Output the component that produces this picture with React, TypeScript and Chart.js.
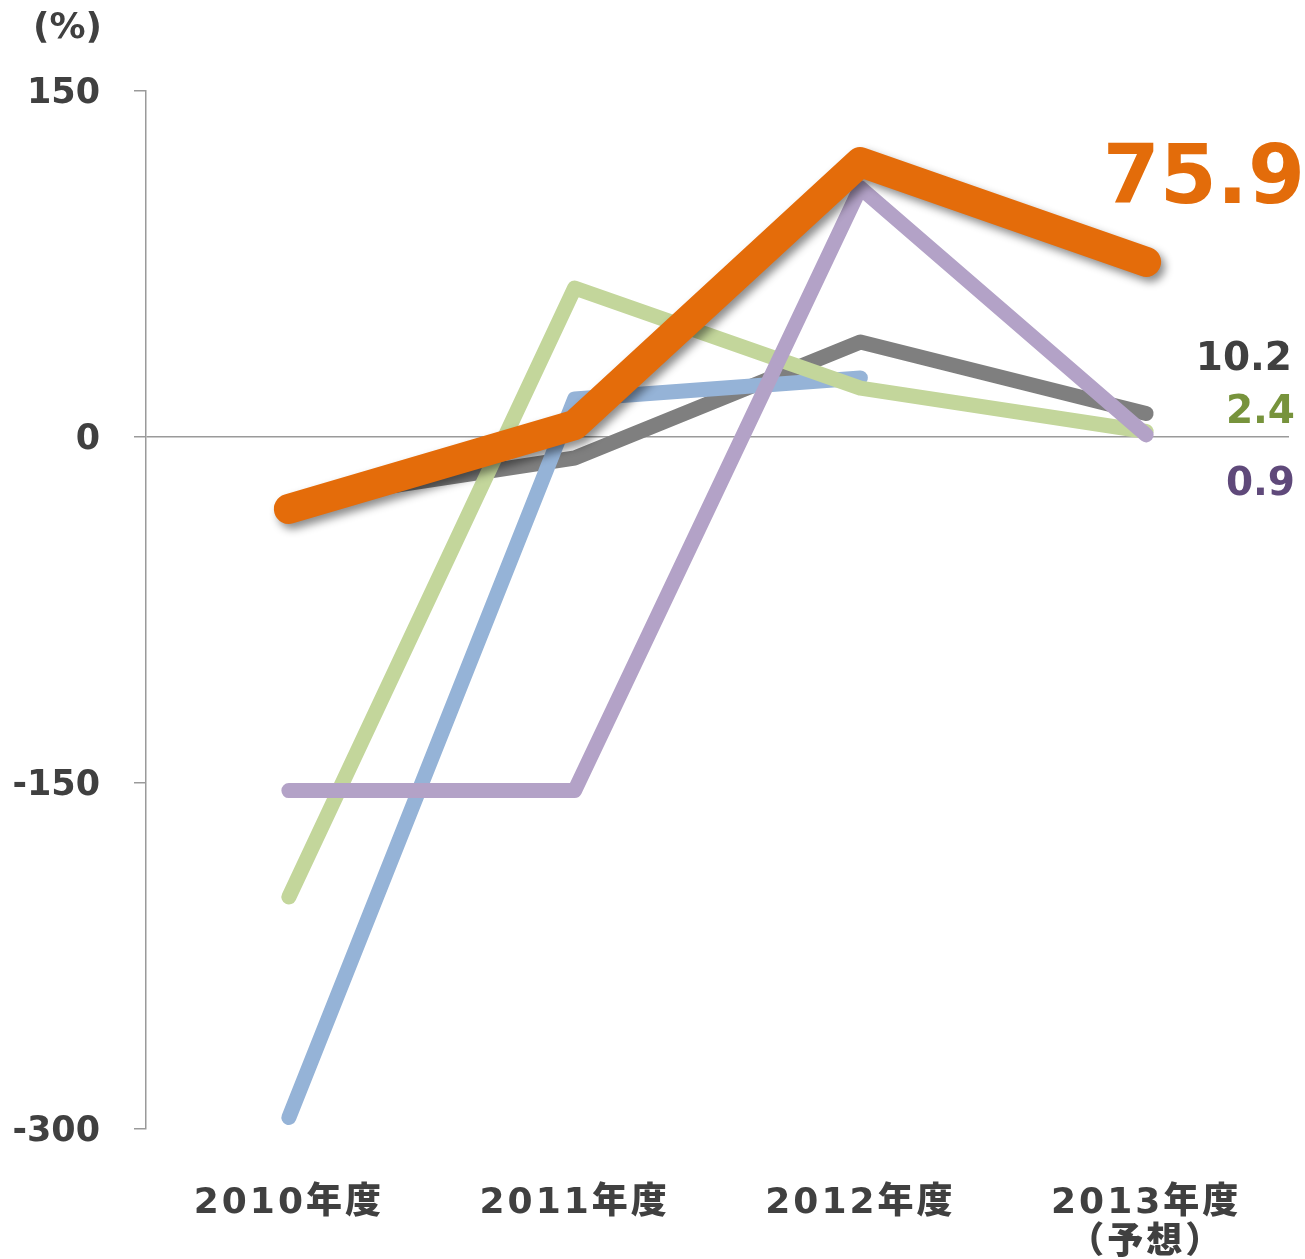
import React, { useEffect, useRef } from "react";
import { Chart, registerables } from "chart.js";

Chart.register(...registerables);

// ---------- data ----------
const categories: (string | string[])[] = ["2010年度", "2011年度", "2012年度", ["2013年度", "（予想）"]];
const seriesOrange = [-31.2, 5.2, 119.2, 75.9];
const seriesGray = [-28, -9.1, 41.2, 10.2];
const seriesGreen = [-199.4, 64.6, 21.2, 2.4];
const seriesBlue = [-295, 16.5, 25.6, null];
const seriesPurple = [-153.3, -153.3, 108, 0.9];
const yTickValues = [150, 0, -150, -300];
const unitLabel = "(%)";

// ---------- style ----------
const W = 1305;
const H = 1259;
const TEXT = "#404040";
const FONT = "'DejaVu Sans', 'Noto Sans CJK JP', sans-serif";
const AXIS_COLOR = "#9a9a9a";

const COLORS = {
  orange: "#E46C0A",
  gray: "#7F7F7F",
  green: "#C3D69B",
  blue: "#95B3D7",
  purple: "#B3A2C7",
};

// end-value annotations
const endLabels = [
  { key: "orange", color: "#E36C0A", size: 82, dx: 16, dy: -59 },
  { key: "gray", color: "#404040", size: 39, dx: 3, dy: -43 },
  { key: "green", color: "#77933C", size: 39, dx: 6, dy: -8 },
  { key: "purple", color: "#5F497A", size: 39, dx: 6, dy: 60 },
];

const seriesMap: Record<string, (number | null)[]> = {
  orange: seriesOrange,
  gray: seriesGray,
  green: seriesGreen,
  blue: seriesBlue,
  purple: seriesPurple,
};

const shadowPlugin = {
  id: "lineShadow",
  beforeDatasetDraw(chart: any, args: any) {
    const ds = chart.data.datasets[args.index];
    if (ds && ds.key === "orange") {
      const ctx = chart.ctx;
      ctx.save();
      ctx.shadowColor = "rgba(0,0,0,0.45)";
      ctx.shadowBlur = 8;
      ctx.shadowOffsetX = 4;
      ctx.shadowOffsetY = 5;
    }
  },
  afterDatasetDraw(chart: any, args: any) {
    const ds = chart.data.datasets[args.index];
    if (ds && ds.key === "orange") chart.ctx.restore();
  },
};

const spacingPlugin = {
  id: "xLetterSpacing",
  beforeDraw(chart: any) {
    const sx = chart.scales.x;
    if (sx && !sx.__spaced) {
      const orig = sx.drawLabels.bind(sx);
      sx.drawLabels = (area: any) => {
        const c = chart.ctx;
        c.save();
        (c as any).letterSpacing = "3px";
        orig(area);
        c.restore();
      };
      sx.__spaced = true;
    }
  },
};

const textPlugin = {
  id: "annotTexts",
  afterDraw(chart: any) {
    const ctx = chart.ctx;
    const ys = chart.scales.y;
    const area = chart.chartArea;
    ctx.save();
    ctx.fillStyle = TEXT;
    ctx.font = `bold 36px ${FONT}`;
    ctx.textAlign = "left";
    ctx.textBaseline = "alphabetic";
    ctx.fillText(unitLabel, 33, 38);
    ctx.textAlign = "right";
    for (const l of endLabels) {
      const arr = seriesMap[l.key];
      const v = arr[arr.length - 1] as number;
      const y = ys.getPixelForValue(v) + l.dy;
      ctx.font = `bold ${l.size}px ${FONT}`;
      ctx.fillStyle = l.color;
      ctx.fillText(v.toFixed(1), area.right + l.dx, y);
    }
    ctx.restore();
  },
};

function makeDataset(key: string, label: string, data: (number | null)[], width: number, order: number) {
  return {
    key,
    label,
    data,
    borderColor: (COLORS as any)[key],
    backgroundColor: (COLORS as any)[key],
    borderWidth: width,
    borderCapStyle: "round",
    borderJoinStyle: "round",
    pointRadius: 0,
    pointHoverRadius: 0,
    tension: 0,
    fill: false,
    spanGaps: false,
    order,
  };
}

export default function App() {
  const ref = useRef<HTMLCanvasElement | null>(null);

  useEffect(() => {
    document.body.style.margin = "0";
    if (!ref.current) return;
    const chart = new Chart(ref.current, {
      type: "line",
      data: {
        labels: categories as any,
        datasets: [
          makeDataset("orange", "orange", seriesOrange, 30, 0),
          makeDataset("purple", "purple", seriesPurple, 15, 1),
          makeDataset("green", "green", seriesGreen, 15, 2),
          makeDataset("blue", "blue", seriesBlue, 15, 3),
          makeDataset("gray", "gray", seriesGray, 15, 4),
        ] as any,
      },
      options: {
        animation: false,
        responsive: false,
        devicePixelRatio: 1,
        layout: { padding: { top: 91, right: 16, left: 0, bottom: 0 } },
        plugins: {
          legend: { display: false },
          tooltip: { enabled: false },
          title: { display: false },
        },
        scales: {
          x: {
            type: "category",
            offset: true,
            grid: { display: false },
            border: { display: false },
            ticks: {
              color: TEXT,
              font: { family: FONT, size: 36, weight: "900", lineHeight: 1.12 },
              padding: 46,
              maxRotation: 0,
              minRotation: 0,
              autoSkip: false,
            },
            afterFit(scale: any) {
              scale.height = 130;
            },
          },
          y: {
            min: -300,
            max: 150,
            afterBuildTicks(scale: any) {
              scale.ticks = yTickValues.map((v) => ({ value: v }));
            },
            grid: {
              color: (c: any) => (c.tick && c.tick.value === 0 ? AXIS_COLOR : "rgba(0,0,0,0)"),
              tickColor: AXIS_COLOR,
              tickLength: 12,
              lineWidth: 1.5,
              drawTicks: true,
            },
            border: { display: true, color: AXIS_COLOR, width: 1.5 },
            ticks: {
              color: TEXT,
              font: { family: FONT, size: 35, weight: "bold" },
              padding: 34,
              labelOffset: 3,
            },
            afterFit(scale: any) {
              scale.width = 146;
            },
          },
        },
      } as any,
      plugins: [shadowPlugin, spacingPlugin, textPlugin],
    });
    return () => chart.destroy();
  }, []);

  return (
    <div style={{ position: "absolute", left: 0, top: 0, width: W, height: H }}>
      <canvas ref={ref} width={W} height={H} style={{ display: "block" }} />
    </div>
  );
}
